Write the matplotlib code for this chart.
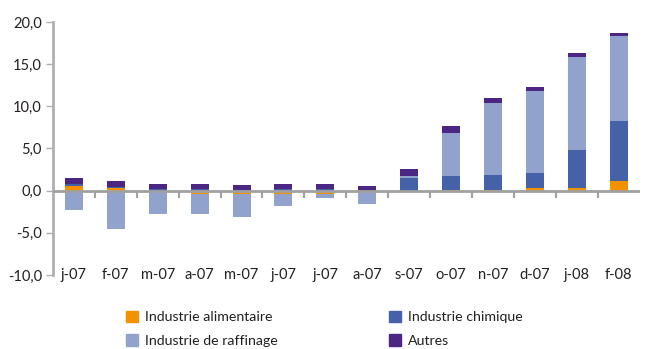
import matplotlib
matplotlib.use("Agg")
import matplotlib.pyplot as plt
import numpy as np
from matplotlib.patches import Patch

plt.rcParams['font.family'] = ['Lato', 'DejaVu Sans']

categories = ["j-07", "f-07", "m-07", "a-07", "m-07", "j-07", "j-07", "a-07",
              "s-07", "o-07", "n-07", "d-07", "j-08", "f-08"]
alimentaire = [0.6, 0.3, 0.02, -0.4, -0.4, -0.4, -0.4, -0.1, -0.2, 0.08, 0.08, 0.3, 0.3, 1.14]
chimique = [0.25, 0.1, 0.15, 0.2, 0.1, 0.2, 0.2, 0.05, 1.5, 1.66, 1.78, 1.78, 4.52, 7.11]
raffinage = [-2.3, -4.5, -2.8, -2.4, -2.7, -1.45, -0.5, -1.45, 0.23, 5.05, 8.5, 9.7, 11.0, 10.06]
autres = [0.67, 0.8, 0.67, 0.55, 0.6, 0.55, 0.55, 0.47, 0.82, 0.82, 0.6, 0.47, 0.47, 0.36]
yticks = [-10, -5, 0, 5, 10, 15, 20]

series = [
    ("Industrie alimentaire", alimentaire, "#F39200"),
    ("Industrie chimique", chimique, "#4561A8"),
    ("Industrie de raffinage", raffinage, "#91A2CC"),
    ("Autres", autres, "#4B2683"),
]

fig = plt.figure(figsize=(6.46, 3.49), dpi=100)
ax = fig.add_axes([0.082, 0.212, 0.908, 0.725])

x = np.arange(len(categories))
pos_b = np.zeros(len(categories))
neg_b = np.zeros(len(categories))
for name, vals, col in series:
    v = np.array(vals, dtype=float)
    bottom = np.where(v >= 0, pos_b, neg_b)
    ax.bar(x, v, bottom=bottom, width=0.43, color=col, zorder=2, linewidth=0)
    pos_b = pos_b + np.where(v >= 0, v, 0)
    neg_b = neg_b + np.where(v < 0, v, 0)

grey = "#B0B0B0"
txt = "#231F20"
ax.set_xlim(-0.5, len(categories) - 0.5)
ax.set_ylim(-10, 20)
ax.set_yticks(yticks)
ax.set_yticklabels([f"{t:.1f}".replace(".", ",") for t in yticks])
ax.axhline(0, color="#A0A0A0", lw=2, zorder=3)

for s in ["top", "right", "bottom"]:
    ax.spines[s].set_visible(False)
ax.spines["left"].set_color(grey)
ax.spines["left"].set_linewidth(2)
ax.tick_params(axis="y", direction="out", length=5, width=1, color=grey,
               labelsize=10.5, labelcolor=txt, pad=3)

ax.set_xticks(x)
ax.set_xticklabels(categories)
ax.tick_params(axis="x", length=0, labelsize=10.5, labelcolor=txt, pad=0)
for lab in ax.get_xticklabels():
    lab.set_va("center")

sec = ax.secondary_xaxis(1/3)
sec.set_xticks(np.arange(len(categories) - 1) + 0.5)
sec.set_xticklabels([])
sec.tick_params(direction="out", length=5, width=1.5, color="#A0A0A0")
sec.spines["bottom"].set_visible(False)

leg_kw = dict(loc="upper left", frameon=False, fontsize=10.2, handlelength=0.85,
              handleheight=0.85, handletextpad=0.5, labelspacing=0.78, borderpad=0,
              borderaxespad=0, labelcolor=txt)
l1 = fig.legend([Patch(color=series[0][2]), Patch(color=series[2][2])],
                [series[0][0], series[2][0]], bbox_to_anchor=(0.195, 0.11), **leg_kw)
l2 = fig.legend([Patch(color=series[1][2]), Patch(color=series[3][2])],
                [series[1][0], series[3][0]], bbox_to_anchor=(0.602, 0.11), **leg_kw)

fig.savefig("out.png", dpi=100)
